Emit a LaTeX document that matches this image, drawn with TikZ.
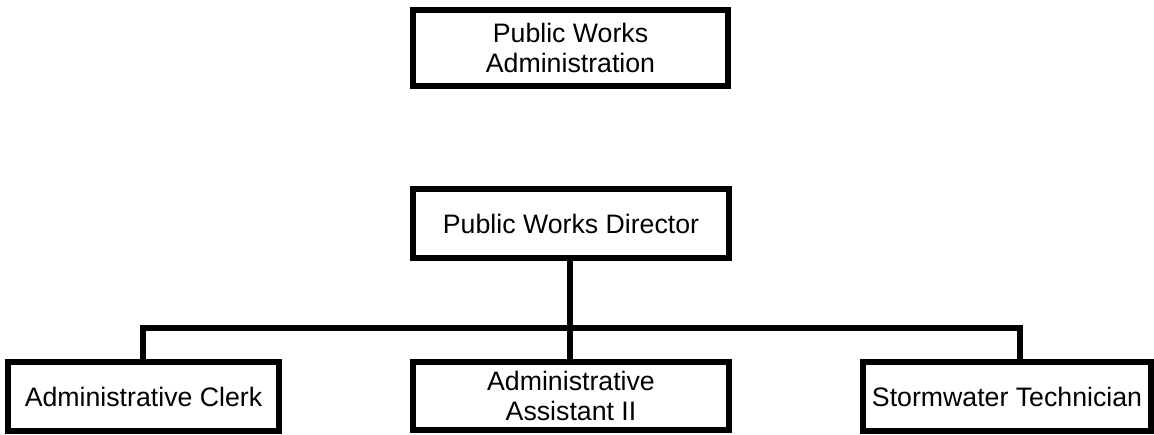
\documentclass[tikz,border=0pt]{standalone}
\usepackage{fontspec}
\setmainfont{Liberation Sans}
\begin{document}
\begin{tikzpicture}[x=1pt,y=-1pt,
  box/.style={draw=black, line width=6pt, fill=white, rectangle, inner sep=0pt, align=center,
    font=\fontsize{26.7pt}{30pt}\selectfont},
  conn/.style={draw=black, line width=6pt, line join=miter}]
\useasboundingbox[fill=white] (0,0) rectangle (1154,434);
\node[box, minimum width=315pt, minimum height=76pt] (pwa) at (570.5,48)
  {\raisebox{5pt}{\parbox{300pt}{\centering Public Works\\Administration}}};
\node[box, minimum width=316pt, minimum height=69pt] (dir) at (571,223.5) {Public Works Director};
\node[box, minimum width=271pt, minimum height=69pt] (clerk) at (143.5,396.5) {Administrative Clerk};
\node[box, minimum width=316pt, minimum height=68pt] (asst) at (571,396) {Administrative\\Assistant II};
\node[box, minimum width=288pt, minimum height=69pt] (tech) at (1007,396.5) {Stormwater Technician};
\coordinate (bar) at (570,328);
\coordinate (techtop) at (1020,362);
\coordinate (clerktop) at (143,362);
\draw[conn] (dir.south -| bar) -- (asst.north -| bar);
\draw[conn] (clerktop) |- (bar) -| (techtop);
\end{tikzpicture}
\end{document}
